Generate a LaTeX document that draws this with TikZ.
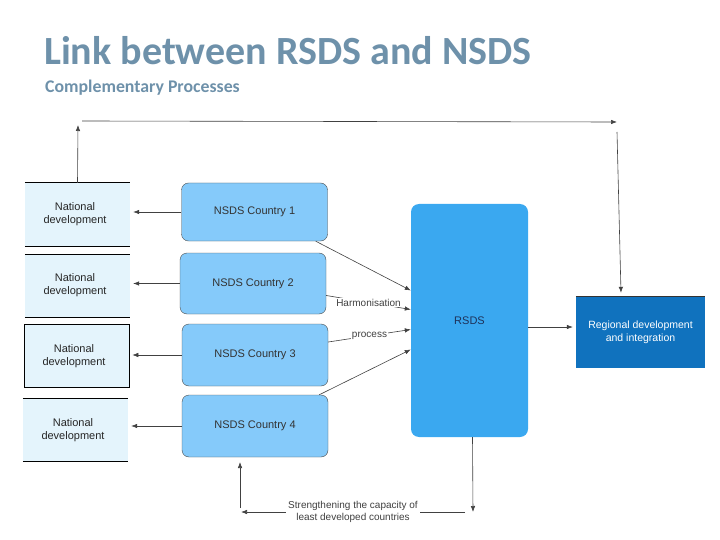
\documentclass[tikz,border=0pt]{standalone}
\usepackage{fontspec}
\setmainfont{Liberation Sans}
\newfontfamily\titlefont{Carlito}
\usetikzlibrary{arrows.meta}
\definecolor{natfill}{RGB}{228,244,252}
\definecolor{nsdsfill}{RGB}{133,202,250}
\definecolor{rsdsfill}{RGB}{58,168,240}
\definecolor{regfill}{RGB}{16,114,190}
\definecolor{titlecol}{RGB}{110,145,170}
\definecolor{linecol}{RGB}{65,65,65}
\tikzset{
	natbox/.style={fill=natfill, minimum width=105pt, minimum height=63pt, inner sep=0pt, align=center, font=\fontsize{11}{13}\selectfont, text=black!85},
	nsdsbox/.style={fill=nsdsfill, draw=black!70, line width=0.4pt, rounded corners=7pt, minimum width=146pt, minimum height=60pt, font=\fontsize{11}{13}\selectfont, text=black!80},
	arr/.style={draw=linecol, line width=0.6pt, -{Latex[length=6pt,width=4.5pt]}},
	lbl/.style={fill=white, inner sep=1pt, align=center, font=\fontsize{10}{11.5}\selectfont, text=black!75},
}
\begin{document}
\begin{tikzpicture}[x=1pt, y=-1pt]
		\useasboundingbox (0,0) rectangle (720,540);
		\node [anchor=base west, inner sep=0pt, text=titlecol, font=\titlefont\bfseries\fontsize{40}{44}\selectfont] (title) at (44,65) {Link between RSDS and NSDS};
		\node [anchor=base west, inner sep=0pt, text=titlecol, font=\titlefont\bfseries\fontsize{17.8}{20}\selectfont] (subtitle) at (45,93) {Complementary Processes};
		\draw (77.5,214.5) node [natbox] (nat1) {\hspace*{-5pt}National\\\hspace*{-5pt}development};
		\draw (77.5,285.5) node [natbox] (nat2) {\hspace*{-5pt}National\\\hspace*{-5pt}development};
		\draw (76.5,356) node [natbox, draw=black, line width=0.6pt] (nat3) {\hspace*{-5pt}National\\\hspace*{-5pt}development};
		\draw (75.5,430) node [natbox] (nat4) {\hspace*{-5pt}National\\\hspace*{-5pt}development};
		\foreach \n in {nat1,nat2,nat4}
		\draw [line width=0.6pt] (\n.north west) -- (\n.north east) (\n.south west) -- (\n.south east);
		\draw (254.5,212) node [nsdsbox, minimum height=58pt] (nsds1) {NSDS Country 1};
		\draw (253,283.5) node [nsdsbox, minimum height=61pt] (nsds2) {NSDS Country 2};
		\draw (255,355) node [nsdsbox, minimum height=62pt] (nsds3) {NSDS Country 3};
		\draw (255,426) node [nsdsbox, minimum height=62pt] (nsds4) {NSDS Country 4};
		\draw (469.5,320.5) node [fill=rsdsfill, rounded corners=8pt, minimum width=117pt, minimum height=233pt, font=\fontsize{11}{13}\selectfont, text={rgb,255:red,30;green,50;blue,90}] (rsds) {RSDS};
		\draw (640.5,332) node [fill=regfill, minimum width=129pt, minimum height=72pt, align=center, font=\fontsize{10.5}{13}\selectfont, text=white] (reg) {Regional development\\and integration};
		\draw [line width=0.5pt, black!80] (reg.north west) -- (reg.north east);
		\foreach \i in {1,...,4}
		\draw [arr] (nsds\i.west) -- ([xshift=3pt]nsds\i.west -| nat\i.east);
		\draw [arr] ([xshift=-12pt]nsds1.south east) -- ([yshift=30pt]rsds.west);
		\draw [arr] ([yshift=-12pt]nsds2.east) -- node [lbl, pos=0.5] (harm) {Harmonisation} ([yshift=11pt]rsds.west);
		\draw [arr] ([yshift=13pt]nsds3.east) -- node [lbl, pos=0.5] (proc) {process} ([yshift=-9pt]rsds.west);
		\draw [arr] ([xshift=-9pt]nsds4.north east) -- ([yshift=-29pt]rsds.west);
		\draw [arr] ([yshift=-6.5pt]rsds.east) -- ([yshift=5pt, xshift=-3pt]reg.west);
		\coordinate (upL) at (78,125);
		\coordinate (topL) at (82,121);
		\coordinate (topR) at (617,122);
		\coordinate (downR) at (617,132);
		\draw [arr] (nat1.north) -- (upL);
		\draw [arr] (topL) -- (topR);
		\draw [arr] (downR) -- ([xshift=-19.5pt, yshift=3pt]reg.north);
		\coordinate (capR) at (473,512);
		\coordinate (capM) at (465,512);
		\coordinate (capL) at (241,512);
		\coordinate (capU) at (240,508);
		\coordinate (capT) at (240,462);
		\draw [arr] ([xshift=3pt]rsds.south) -- (capR);
		\draw [arr] (capM) -- node [lbl, inner sep=2pt] (cap) {Strengthening the capacity of\\least developed countries} (capL);
		\draw [arr] (capU) -- (capT);
	\end{tikzpicture}
\end{document}
